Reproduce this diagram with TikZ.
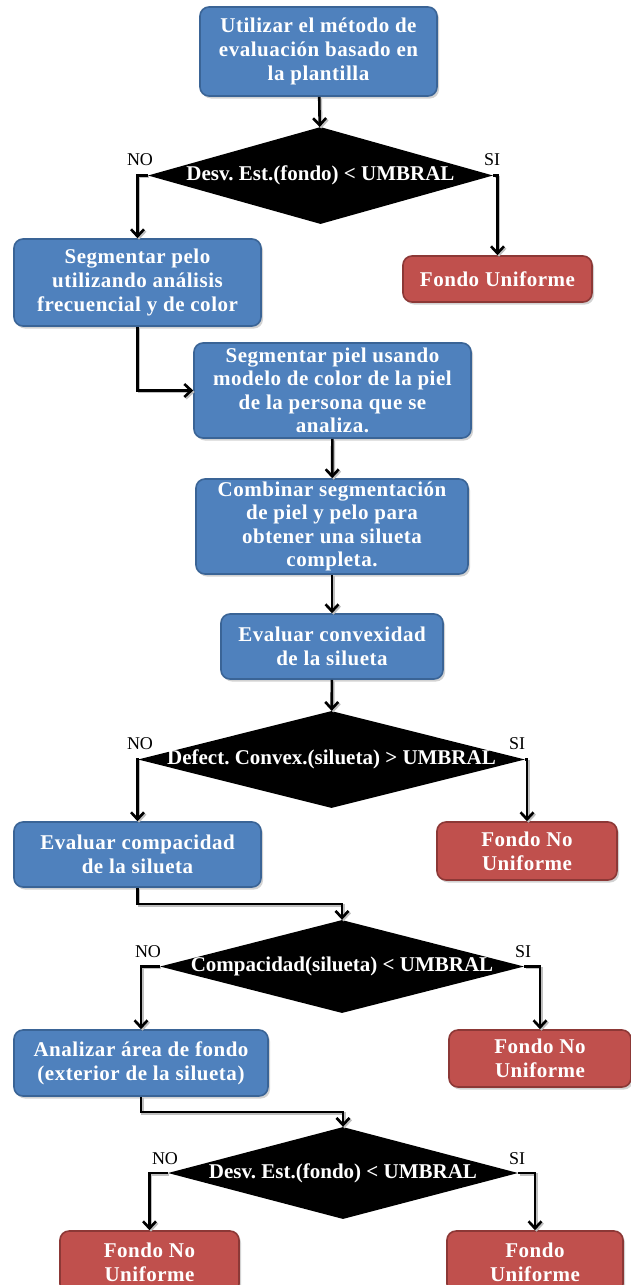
\documentclass[tikz,border=0pt]{standalone}
\usepackage{fontspec}
\setmainfont{Liberation Serif}
\newfontfamily\boxfont{Liberation Serif}[LetterSpace=2.5]
\usetikzlibrary{shapes.geometric,arrows.meta,shadows}
\definecolor{bfill}{HTML}{4F81BD}
\definecolor{bdraw}{HTML}{3A6496}
\definecolor{rfill}{HTML}{C0504D}
\definecolor{rdraw}{HTML}{8C3836}
\tikzset{
  box/.style={rounded corners=9pt, draw=bdraw, line width=1.6pt, fill=bfill, text=white,
    font=\boxfont\bfseries\fontsize{21}{24}\selectfont, align=center, inner sep=0pt,
    drop shadow={shadow xshift=2pt, shadow yshift=-2.5pt, opacity=0.35}},
  redbox/.style={box, draw=rdraw, fill=rfill},
  dia/.style={diamond, fill=black, inner sep=0pt},
  diatext/.style={text=white, font=\bfseries\fontsize{21}{24}\selectfont, inner sep=0pt},
  lbl/.style={font=\fontsize{18}{20}\selectfont, inner sep=0pt},
  arr/.style={-{Straight Barb[length=7pt,width=13pt,line width=2.6pt]}, line width=2.6pt,
    preaction={draw=black!25, line width=2.6pt, transform canvas={shift={(1.5pt,-1.5pt)}}}},
}
\frenchspacing
\begin{document}
\begin{tikzpicture}[x=1pt,y=-1pt]
\useasboundingbox[fill=white] (0,0) rectangle (631,1285);

\node[box, minimum width=237pt, minimum height=89pt] (b1) at (318.5,51.5)
  {Utilizar el método de\\evaluación basado en\\la plantilla};
\node[dia, minimum width=345pt, minimum height=97pt,
  label={[diatext]center:Desv. Est.(fondo) < UMBRAL}] (d1) at (320.5,175.5) {};
\node[box, minimum width=247pt, minimum height=87pt] (b2) at (137.5,282.5)
  {Segmentar pelo\\utilizando análisis\\frecuencial y de color};
\node[redbox, minimum width=189pt, minimum height=46pt] (f1) at (497.5,279)
  {Fondo Uniforme};
\node[box, minimum width=277pt, minimum height=95pt, font=\boxfont\bfseries\fontsize{21}{23.5}\selectfont] (b3) at (332.5,390.5)
  {Segmentar piel usando\\modelo de color de la piel\\de la persona que se\\analiza.};
\node[box, minimum width=272pt, minimum height=95pt, font=\boxfont\bfseries\fontsize{21}{23.5}\selectfont] (b4) at (332,526.5)
  {Combinar segmentación\\de piel y pelo para\\obtener una silueta\\completa.};
\node[box, minimum width=222pt, minimum height=65pt] (b5) at (332,646.5)
  {Evaluar convexidad\\de la silueta};
\node[dia, minimum width=387pt, minimum height=97pt,
  label={[diatext]center:Defect. Convex.(silueta) > UMBRAL}] (d2) at (331.5,759.5) {};
\node[box, minimum width=247pt, minimum height=65pt] (b6) at (137.5,854.5)
  {Evaluar compacidad\\de la silueta};
\node[redbox, minimum width=180pt, minimum height=58pt] (f2) at (527,851)
  {Fondo No\\Uniforme};
\node[dia, minimum width=364pt, minimum height=93pt,
  label={[diatext]center:Compacidad(silueta) < UMBRAL}] (d3) at (342,966.5) {};
\node[box, minimum width=254pt, minimum height=66pt] (b8) at (141,1063)
  {Analizar área de fondo\\(exterior de la silueta)};
\node[redbox, minimum width=182pt, minimum height=57pt] (f3) at (540,1058.5)
  {Fondo No\\Uniforme};
\node[dia, minimum width=350pt, minimum height=92pt,
  label={[diatext]center:Desv. Est.(fondo) < UMBRAL}] (d4) at (343,1173) {};
\node[redbox, minimum width=179pt, minimum height=62pt] (f4) at (149.5,1262)
  {Fondo No\\Uniforme};
\node[redbox, minimum width=176pt, minimum height=62pt] (f5) at (535,1262)
  {Fondo\\Uniforme};

\node[lbl] (no1) at (140,160) {NO};
\node[lbl] (si1) at (492,160) {SI};
\node[lbl] (no2) at (140,744) {NO};
\node[lbl] (si2) at (517,744) {SI};
\node[lbl] (no3) at (148,952) {NO};
\node[lbl] (si3) at (523,952) {SI};
\node[lbl] (no4) at (165,1159) {NO};
\node[lbl] (si4) at (517,1159) {SI};

\draw[arr] (b1) -- (d1);
\draw[arr] (d1.west) -| (b2.north);
\draw[arr] (d1.east) -| (f1.north);
\draw[arr] (b2.south) |- (b3.west);
\draw[arr] (b3) -- (b4);
\draw[arr] (b4) -- (b5);
\draw[arr] (b5) -- (d2);
\draw[arr] (d2.west) -| (b6.north);
\draw[arr] (d2.east) -| (f2.north);
\draw[arr] (b6.south) -- ++(0,16) -| (d3.north);
\draw[arr] (d3.west) -| (b8.north);
\draw[arr] (d3.east) -| (f3.north);
\draw[arr] (b8.south) -- ++(0,15) -| (d4.north);
\draw[arr] (d4.west) -| (f4.north);
\draw[arr] (d4.east) -| (f5.north);
\end{tikzpicture}
\end{document}
